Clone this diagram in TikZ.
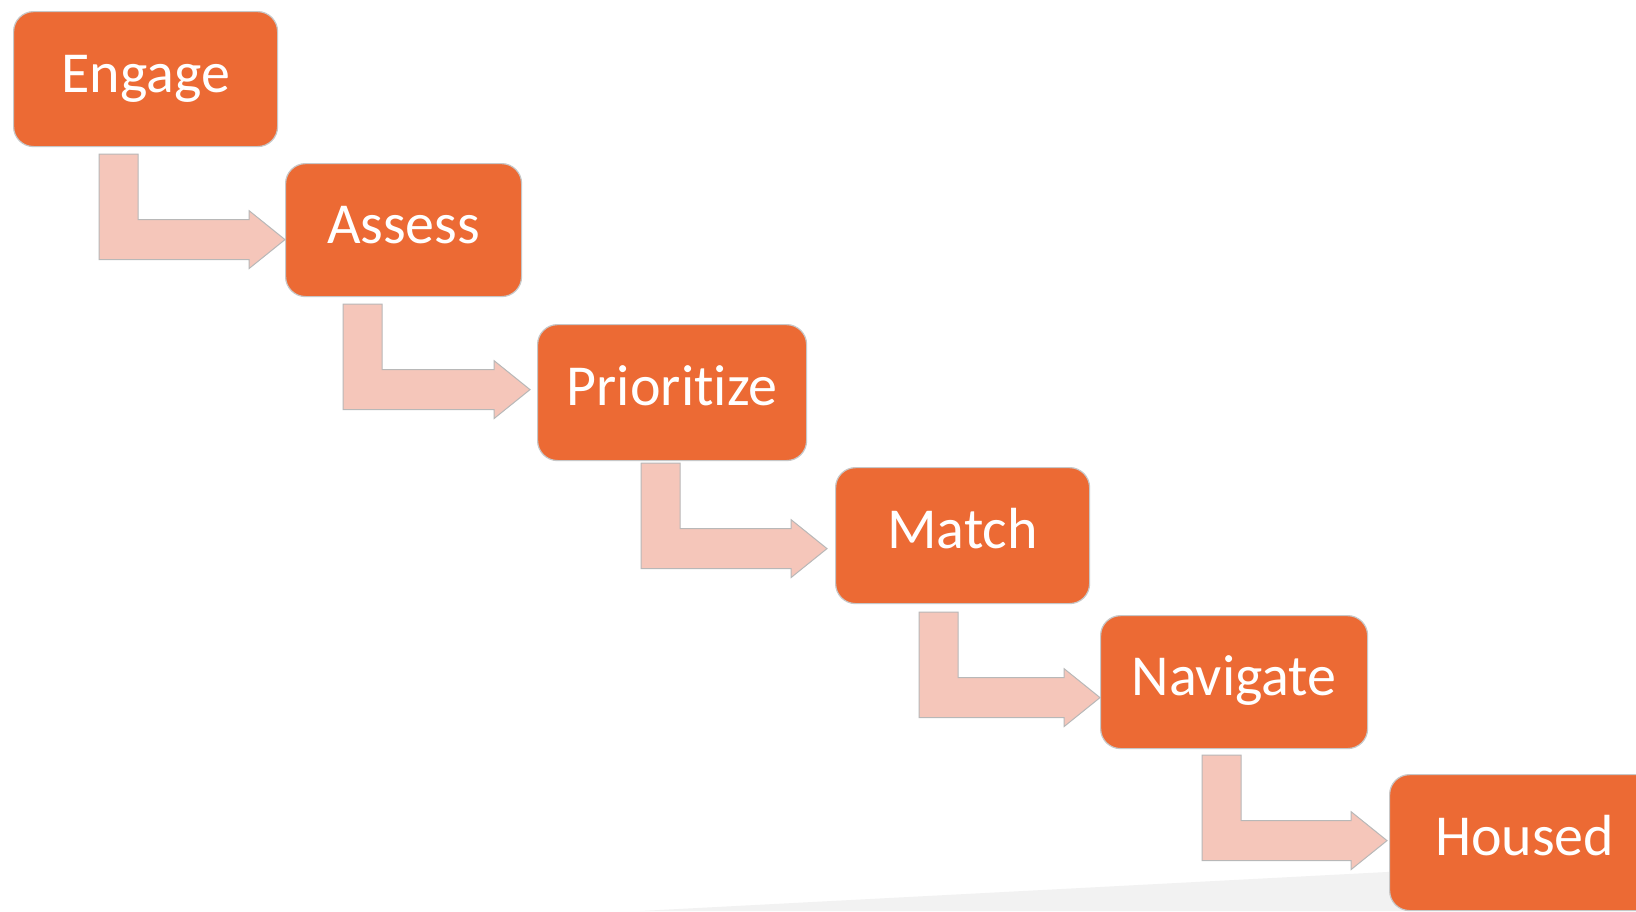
\documentclass[tikz,border=0pt]{standalone}
\usepackage{fontspec}
\setmainfont{Carlito}[Ligatures=NoCommon]
\usetikzlibrary{calc}
\definecolor{boxorange}{HTML}{EC6A34}
\definecolor{arrowpink}{HTML}{F5C6BA}
\definecolor{wedgegray}{HTML}{F2F2F2}
\tikzset{
  stepbox/.style={draw=black!22, line width=0.6pt, fill=boxorange, rounded corners=10pt,
    anchor=north west, text=white, font=\fontsize{29}{34}\selectfont,
    text height=20pt, text depth=7pt, inner sep=0pt},
  arrowfill/.style={fill=arrowpink, draw=black!28, line width=0.5pt, line join=miter}
}
\newcommand{\bentarrow}[2]{%
  \path[arrowfill] let \p1=(#1), \p2=(#2) in
    (\x1,\y1) -- (\x1+19.5pt,\y1) -- (\x1+19.5pt,\y2+10pt) -- (\x2-18pt,\y2+10pt)
    -- (\x2-18pt,\y2+14.5pt) -- (\x2,\y2) -- (\x2-18pt,\y2-14.5pt) -- (\x2-18pt,\y2-10pt)
    -- (\x1,\y2-10pt) -- cycle;}
\begin{document}
\begin{tikzpicture}[x=0.5pt,y=-0.5pt]
\clip (0,0) rectangle (1636,911);
\fill[white] (0,0) rectangle (1636,911);
\fill[wedgegray] (640,911) -- (1636,859) -- (1636,911) -- cycle;

\node[stepbox, minimum width=132pt, minimum height=67.5pt] (engage) at (13,11) {Engage};
\node[stepbox, minimum width=118pt, minimum height=66.5pt] (assess) at (285,163) {Assess};
\node[stepbox, minimum width=134.5pt, minimum height=68pt] (prioritize) at (537,324) {Priori\kern0pt tize};
\node[stepbox, minimum width=127pt, minimum height=68pt] (match) at (835,467) {Match};
\node[stepbox, minimum width=133.5pt, minimum height=66.5pt] (navigate) at (1100,615) {Navigate};
\node[stepbox, minimum width=135pt, minimum height=68pt] (housed) at (1389,774) {Housed};

\coordinate (s1) at (99,154);
\coordinate (s2) at (343,304);
\coordinate (s3) at (641,463);
\coordinate (s4) at (919,612);
\coordinate (s5) at (1202,755);
\coordinate (t1) at ($(assess.west)+(0,9.5)$);
\coordinate (t2) at ($(prioritize.west)+(-7,-3)$);
\coordinate (t3) at ($(match.west)+(-8,13)$);
\coordinate (t4) at ($(navigate.west)+(0,15.5)$);
\coordinate (t5) at ($(housed.west)+(-2,-2)$);

\bentarrow{s1}{t1}
\bentarrow{s2}{t2}
\bentarrow{s3}{t3}
\bentarrow{s4}{t4}
\bentarrow{s5}{t5}
\end{tikzpicture}
\end{document}
